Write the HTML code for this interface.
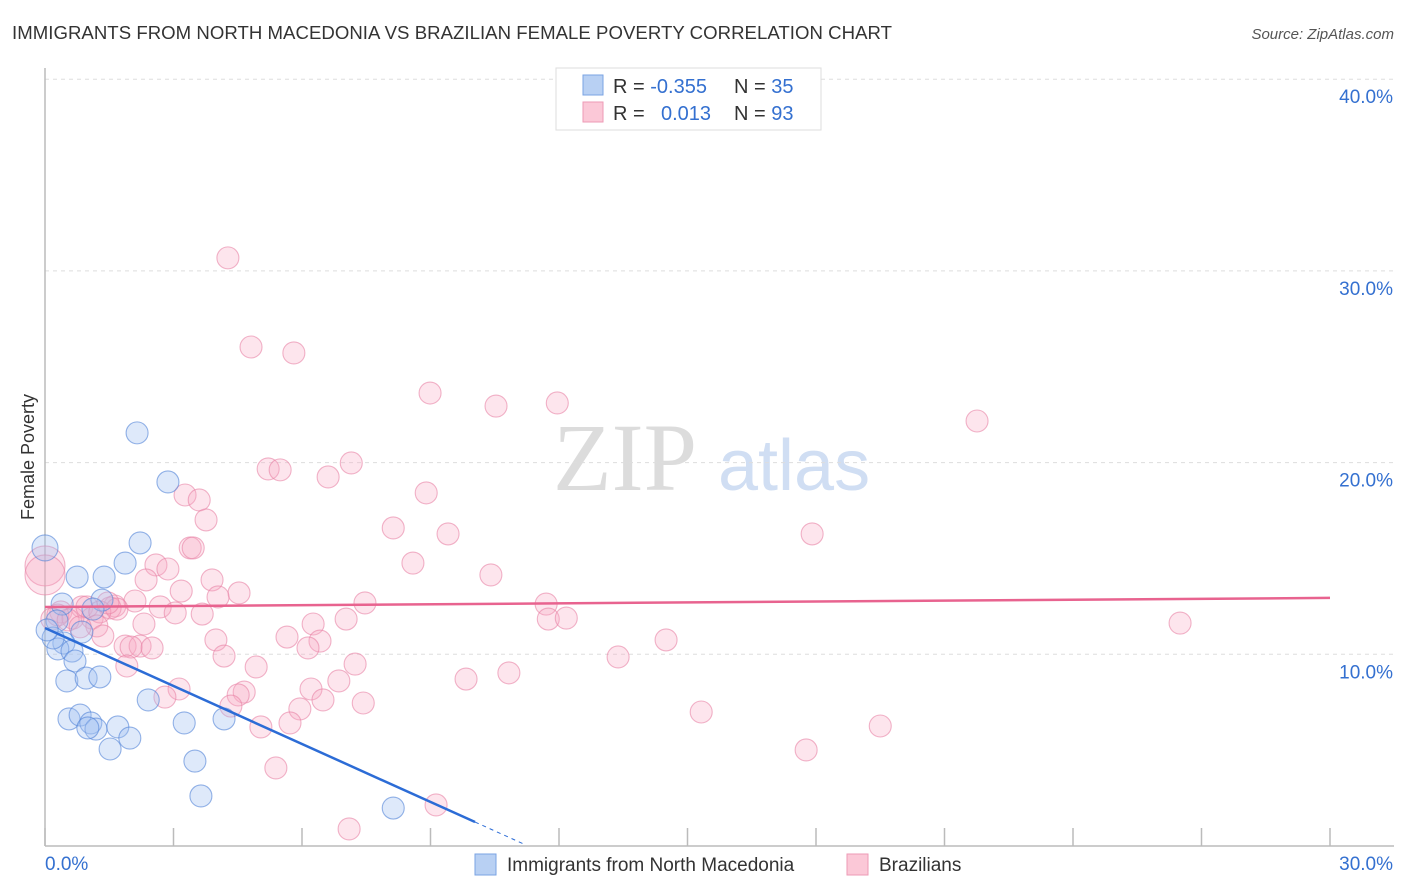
<!DOCTYPE html>
<html><head><meta charset="utf-8"><style>
body{margin:0;background:#fff;font-family:"Liberation Sans",sans-serif;}
svg{display:block}
</style></head><body>
<svg id="chart" width="1406" height="892">
<text x="12" y="39" font-size="18.6" fill="#333" textLength="880">IMMIGRANTS FROM NORTH MACEDONIA VS BRAZILIAN FEMALE POVERTY CORRELATION CHART</text>
<text x="1394" y="39" font-size="15" fill="#555" font-style="italic" text-anchor="end">Source: ZipAtlas.com</text>
<g>
<text x="553" y="490" font-size="96" font-family="Liberation Serif,serif" fill="#dcdcdc">ZIP</text>
<text x="718" y="490" font-size="72" fill="#d0def3">atlas</text>
</g>
<g id="grid"></g>
<g id="axes"></g>
<g id="marks"></g>
<g id="lines"></g>
<text transform="translate(34,457) rotate(-90)" font-size="18" fill="#333" text-anchor="middle">Female Poverty</text>
<g>
<rect x="556" y="68" width="265" height="62" fill="#fff" stroke="#ddd"/>
<rect x="583" y="75" width="20" height="20" fill="#b8d0f3" stroke="#7aa3e3"/>
<rect x="583" y="102" width="20" height="20" fill="#fbc8d7" stroke="#ee9ab5"/>
<text x="613" y="93" font-size="20" fill="#333">R = <tspan fill="#3470d0">-0.355</tspan></text>
<text x="734" y="93" font-size="20" fill="#333">N = <tspan fill="#3470d0">35</tspan></text>
<text x="613" y="120" font-size="20" fill="#333">R = <tspan fill="#3470d0" x="661">0.013</tspan></text>
<text x="734" y="120" font-size="20" fill="#333">N = <tspan fill="#3470d0">93</tspan></text>
</g>
<g>
<rect x="475" y="854" width="21" height="21" fill="#b8d0f3" stroke="#7aa3e3"/>
<text x="507" y="871" font-size="19" fill="#333">Immigrants from North Macedonia</text>
<rect x="847" y="854" width="21" height="21" fill="#fbc8d7" stroke="#ee9ab5"/>
<text x="879" y="871" font-size="19" fill="#333">Brazilians</text>
</g>
</svg>
<script>
const blueX=[0,2.15,2.87,2.22,1.87,0.75,1.38,0.40,1.33,1.12,0.28,0.86,0.44,0.30,0.63,0.70,2.41,0.51,0.96,1.28,0.56,0.82,1.07,1.70,1.19,1.00,1.52,1.98,3.25,4.18,3.50,3.64,8.13,0.19,0.05];
const blueY=[15.55,21.55,18.99,15.81,14.76,14.03,14.03,12.62,12.83,12.36,11.74,11.16,10.59,10.28,10.17,9.65,7.62,8.61,8.76,8.82,6.63,6.83,6.42,6.21,6.10,6.16,5.06,5.63,6.42,6.63,4.43,2.61,1.98,10.85,11.27];
const blueR=[13,11,11,11,11,11,11,11,11,11,11,11,11,11,11,11,11,11,11,11,11,11,11,11,11,11,11,11,11,11,11,11,11,11,11];
const pinkX=[4.27,4.81,5.81,8.99,11.96,10.53,21.76,5.21,5.49,7.15,6.61,8.90,3.27,3.60,3.76,8.13,9.41,17.91,3.39,3.46,8.59,2.59,2.87,2.36,10.41,3.90,4.53,3.18,4.04,2.10,1.63,0.86,1.52,2.69,7.47,11.70,3.67,3.04,0.37,0.65,1.10,1.68,0.16,0.98,1.28,7.03,6.26,11.75,12.17,26.50,2.31,1.21,1.35,5.65,3.99,6.42,14.50,6.14,1.87,2.22,2.01,2.50,4.18,13.38,7.24,4.93,1.91,10.83,9.83,6.21,6.86,3.13,2.80,4.65,4.51,6.49,7.43,4.34,5.95,5.04,5.72,15.32,19.50,17.77,5.39,9.13,7.10,0,0,0.30,0.54,0.82,1.47];
const pinkY=[30.68,26.03,25.72,23.63,23.11,22.95,22.17,19.67,19.62,19.98,19.25,18.42,18.31,18.05,17.01,16.59,16.28,16.28,15.55,15.55,14.76,14.66,14.45,13.88,14.14,13.88,13.20,13.30,12.99,12.78,12.52,12.47,12.42,12.47,12.68,12.62,12.10,12.16,12.21,11.89,11.89,12.36,11.84,12.47,12.21,11.84,11.58,11.84,11.89,11.63,11.58,11.48,10.96,10.90,10.75,10.69,10.75,10.33,10.43,10.43,10.38,10.33,9.91,9.86,9.49,9.34,9.39,9.03,8.71,8.19,8.61,8.19,7.77,8.03,7.88,7.62,7.46,7.30,7.15,6.21,6.42,6.99,6.26,5.01,4.07,2.14,0.89,14.61,14.14,12.05,11.79,11.43,12.68];
const pinkR=pinkY.map((v,i)=>i>=87&&i<=88?20:11);
const yTicks=[10,20,30,40];
const yTickLabels=["10.0%","20.0%","30.0%","40.0%"];
const xTicks=[0,3,6,9,12,15,18,21,24,27,30];
const blueLine=[11.37,-1.008,0,10.04,11.2];
const pinkLine=[12.47,0.0157,0,30];
const X0=45,X1=1330,Y0=846,YPER=19.17;
const sx=v=>X0+(v/30)*(X1-X0);
const sy=v=>Y0-v*YPER;
const NS="http://www.w3.org/2000/svg";
function mk(tag,attrs,parent){const e=document.createElementNS(NS,tag);for(const k in attrs)e.setAttribute(k,attrs[k]);document.getElementById(parent).appendChild(e);return e;}
yTicks.forEach((t,i)=>{
 const g=mk('line',{x1:X0,x2:1394,y1:sy(t),y2:sy(t),stroke:'#ddd','stroke-dasharray':'4,4'},'grid');
 
 
 const l=mk('text',{x:1393,y:sy(t)+24,'font-size':19,fill:'#3470d0','text-anchor':'end'},'grid');
 l.textContent=yTickLabels[i];
 
 
});
const ax=mk('line',{x1:X0,x2:1394,y1:Y0,y2:Y0,stroke:'#bbb','stroke-width':1.5},'axes');


const ay=mk('line',{x1:X0,x2:X0,y1:68,y2:Y0,stroke:'#bbb','stroke-width':1.5},'axes');


xTicks.forEach(t=>{
 const tk=mk('line',{x1:sx(t),x2:sx(t),y1:Y0-18,y2:Y0,stroke:'#bbb','stroke-width':1.5},'axes');
 
 
});
const xl0=mk('text',{x:45,y:870,'font-size':19,fill:'#3470d0'},'axes');xl0.textContent='0.0%';


const xl1=mk('text',{x:1393,y:870,'font-size':19,fill:'#3470d0','text-anchor':'end'},'axes');xl1.textContent='30.0%';


pinkX.forEach((x,i)=>{
 const c=mk('circle',{cx:sx(x),cy:sy(pinkY[i]),r:pinkR[i],fill:'rgba(247,170,195,0.3)',stroke:'rgba(232,130,165,0.6)','stroke-width':1.1},'marks');
 
 
});
blueX.forEach((x,i)=>{
 const c=mk('circle',{cx:sx(x),cy:sy(blueY[i]),r:blueR[i],fill:'rgba(160,192,240,0.35)',stroke:'rgba(80,130,215,0.6)','stroke-width':1.1},'marks');
 
 
});
const bf=x=>blueLine[0]+blueLine[1]*x;
const bl=mk('line',{x1:sx(blueLine[2]),y1:sy(bf(blueLine[2])),x2:sx(blueLine[3]),y2:sy(bf(blueLine[3])),stroke:'#2c6cd6','stroke-width':2.5},'lines');


const bd=mk('line',{x1:sx(blueLine[3]),y1:sy(bf(blueLine[3])),x2:sx(blueLine[4]),y2:sy(bf(blueLine[4])),stroke:'#2c6cd6','stroke-width':1,'stroke-dasharray':'4,4'},'lines');


const pf=x=>pinkLine[0]+pinkLine[1]*x;
const pl=mk('line',{x1:sx(pinkLine[2]),y1:sy(pf(pinkLine[2])),x2:sx(pinkLine[3]),y2:sy(pf(pinkLine[3])),stroke:'#e8638f','stroke-width':2.5},'lines');


</script>
</body></html>
